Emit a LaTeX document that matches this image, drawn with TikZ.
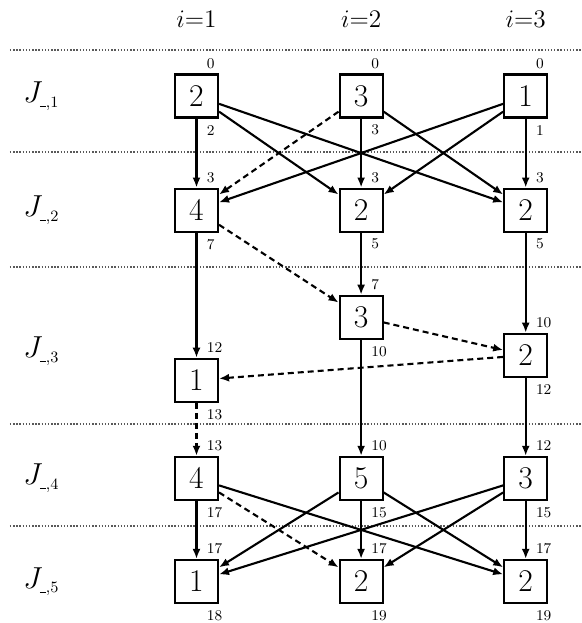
\documentclass[tikz,border=0pt]{standalone}
\usepackage{amsmath}
\usetikzlibrary{arrows.meta}
\usetikzlibrary{positioning}

\newcommand{\lowdash}{\rule{3.4pt}{0.55pt}}

\begin{document}
\begin{tikzpicture}[x=1mm,y=1mm]
  \tikzset{node distance=23.9mm,
           basicbox/.style={draw,very thick,minimum size=8.6mm,inner sep=0pt,font=\fontsize{18}{20}\selectfont},
           stamp/.style={anchor=west,xshift=2mm,inner sep=0pt,font=\fontsize{8.5}{10}\selectfont},
           stamps/.style 2 args={label={[stamp,yshift=2mm]north:#1},label={[stamp,yshift=-2.3mm]south:#2}},
           colhead/.style={font=\fontsize{13.5}{16}\selectfont},
           rowhead/.style={anchor=west,inner sep=0pt,font=\fontsize{18}{20}\selectfont},
           separator/.style={densely dotted,thick,black!65},
           jobarc/.style={->,very thick,>={Latex[length=2mm,width=1.6mm]}},
           machinearc/.style={jobarc,dash pattern=on 1.2mm off 0.8mm}}
  \useasboundingbox (0,0) rectangle (116.4,-124.6);

  \foreach \y in {-10,-30.4,-53.4,-84.8,-105.2}
    \draw[separator] (2,\y) -- (116.4,\y);

  \node[basicbox,stamps={0}{2}] (a11) at (39.3,-19.2) {2};
  \node[basicbox,stamps={0}{3},right=of a11] (a12) {3};
  \node[basicbox,stamps={0}{1},right=of a12] (a13) {1};

  \node[basicbox,stamps={3}{7},below=13.8mm of a11] (a21) {4};
  \node[basicbox,stamps={3}{5},below=13.8mm of a12] (a22) {2};
  \node[basicbox,stamps={3}{5},below=13.8mm of a13] (a23) {2};

  \node[basicbox,stamps={12}{13},below=25mm of a21] (a31) {1};
  \node[basicbox,stamps={7}{10},below=12.4mm of a22] (a32) {3};
  \node[basicbox,stamps={10}{12},below=20mm of a23] (a33) {2};

  \node[basicbox,stamps={13}{17},below=10.6mm of a31] (a41) {4};
  \node[basicbox,stamps={10}{15},right=of a41] (a42) {5};
  \node[basicbox,stamps={12}{15},right=of a42] (a43) {3};

  \node[basicbox,stamps={17}{18},below=11.6mm of a41] (a51) {1};
  \node[basicbox,stamps={17}{19},right=of a51] (a52) {2};
  \node[basicbox,stamps={17}{19},right=of a52] (a53) {2};

  \node[colhead] (h1) at (a11 |- 0,-3.8) {$i{=}1$};
  \node[colhead] (h2) at (a12 |- 0,-3.8) {$i{=}2$};
  \node[colhead] (h3) at (a13 |- 0,-3.8) {$i{=}3$};

  \node[rowhead] (j1) at (4.6,0 |- a11) {$J_{\scriptscriptstyle\lowdash,1}$};
  \node[rowhead] (j2) at (4.6,0 |- a21) {$J_{\scriptscriptstyle\lowdash,2}$};
  \node[rowhead] (j3) at (4.6,-70.2) {$J_{\scriptscriptstyle\lowdash,3}$};
  \node[rowhead] (j4) at (4.6,0 |- a41) {$J_{\scriptscriptstyle\lowdash,4}$};
  \node[rowhead] (j5) at (4.6,0 |- a51) {$J_{\scriptscriptstyle\lowdash,5}$};

  \draw[jobarc] (a11) -- (a21);
  \draw[jobarc] (a11) -- (a22);
  \draw[jobarc] (a11) -- (a23);
  \draw[machinearc] (a12) -- (a21);
  \draw[jobarc] (a12) -- (a22);
  \draw[jobarc] (a12) -- (a23);
  \draw[jobarc] (a13) -- (a21);
  \draw[jobarc] (a13) -- (a22);
  \draw[jobarc] (a13) -- (a23);

  \draw[jobarc] (a21) -- (a31);
  \draw[machinearc] (a21) -- (a32);
  \draw[jobarc] (a22) -- (a32);
  \draw[jobarc] (a23) -- (a33);
  \draw[machinearc] (a32) -- (a33);
  \draw[machinearc] (a33) -- (a31);

  \draw[machinearc] (a31) -- (a41);
  \draw[jobarc] (a32) -- (a42);
  \draw[jobarc] (a33) -- (a43);

  \draw[jobarc] (a41) -- (a51);
  \draw[machinearc] (a41) -- (a52);
  \draw[jobarc] (a41) -- (a53);
  \draw[jobarc] (a42) -- (a51);
  \draw[jobarc] (a42) -- (a52);
  \draw[jobarc] (a42) -- (a53);
  \draw[jobarc] (a43) -- (a51);
  \draw[jobarc] (a43) -- (a52);
  \draw[jobarc] (a43) -- (a53);
\end{tikzpicture}
\end{document}
